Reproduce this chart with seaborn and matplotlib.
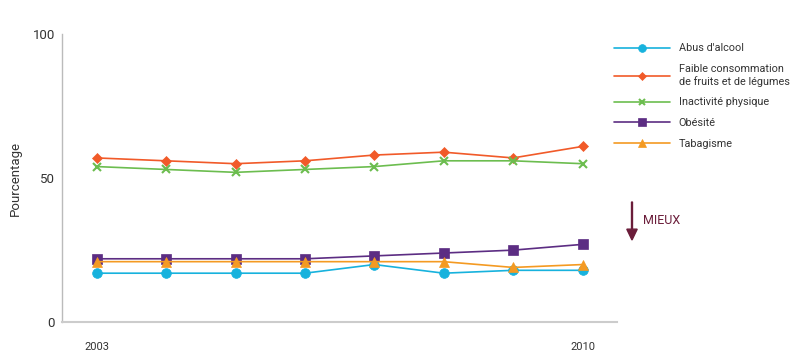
import pandas as pd
import matplotlib
matplotlib.use("Agg")
import matplotlib.pyplot as plt
import seaborn as sns

years = [2003, 2004, 2005, 2006, 2007, 2008, 2009, 2010]
abus_alcool = [17, 17, 17, 17, 20, 17, 18, 18]
fruits_legumes = [57, 56, 55, 56, 58, 59, 57, 61]
inactivite = [54, 53, 52, 53, 54, 56, 56, 55]
obesite = [22, 22, 22, 22, 23, 24, 25, 27]
tabagisme = [21, 21, 21, 21, 21, 21, 19, 20]

series_names = ["Abus d'alcool", "Faible consommation\nde fruits et de légumes",
                "Inactivité physique", "Obésité", "Tabagisme"]
series_vals = [abus_alcool, fruits_legumes, inactivite, obesite, tabagisme]
colors = ["#17b2dd", "#f15a29", "#6cbd4f", "#5c2d83", "#f49a22"]
markers = ["o", "D", "x", "s", "^"]
msizes = [7, 5, 6, 7, 7]

rows = []
for name, vals in zip(series_names, series_vals):
    for y, v in zip(years, vals):
        rows.append({"Année": y, "Pourcentage": v, "Série": name})
df = pd.DataFrame(rows)

sns.set_style("white")
plt.rcParams['font.family'] = ['Roboto', 'DejaVu Sans']

fig = plt.figure(figsize=(8, 3.62), dpi=100)
ax = fig.add_axes([0.0775, 0.11, 0.694, 0.796])

for name, col, mk, ms in zip(series_names, colors, markers, msizes):
    sub = df[df["Série"] == name]
    sns.lineplot(data=sub, x="Année", y="Pourcentage", ax=ax, color=col,
                 marker=mk, markersize=ms, markeredgecolor=col,
                 markeredgewidth=1.5 if mk == "x" else 0.5,
                 linewidth=1.2, label=name)

ax.set_xlim(2002.5, 2010.5)
ax.set_ylim(0, 100)
ax.set_xticks([2003, 2010])
ax.set_xticklabels(["2003", "2010"], fontsize=8, color="#333333")
ax.set_yticks([0, 50, 100])
ax.set_yticklabels(["0", "50", "100"], fontsize=9.5, color="#333333")
ax.tick_params(axis="x", length=0, pad=14)
ax.tick_params(axis="y", length=3, color="#bbbbbb", width=0.8, pad=2)
ax.set_xlabel("")
ax.set_ylabel("Pourcentage", fontsize=9.5, color="#333333", labelpad=8)
for side in ["top", "right"]:
    ax.spines[side].set_visible(False)
ax.spines["left"].set_color("#bbbbbb")
ax.spines["bottom"].set_color("#cccccc")
ax.spines["bottom"].set_linewidth(1.5)
ax.spines["left"].set_linewidth(1.0)

leg = ax.legend(loc="upper left", bbox_to_anchor=(0.755, 0.907),
                bbox_transform=fig.transFigure, frameon=False,
                fontsize=7.8, handlelength=5.2, labelspacing=0.98,
                handletextpad=0.8, markerscale=0.8)
for t in leg.get_texts():
    t.set_color("#333333")

fig.patches.append(matplotlib.patches.FancyArrow(
    0.79, 0.442, 0, -0.105, width=0.0012, head_width=0.013, head_length=0.03,
    length_includes_head=True, color="#6b1d3a", transform=fig.transFigure))
fig.text(0.804, 0.39, "MIEUX", fontsize=9, color="#6b1d3a", va="center")

fig.savefig("out.png", dpi=100)
